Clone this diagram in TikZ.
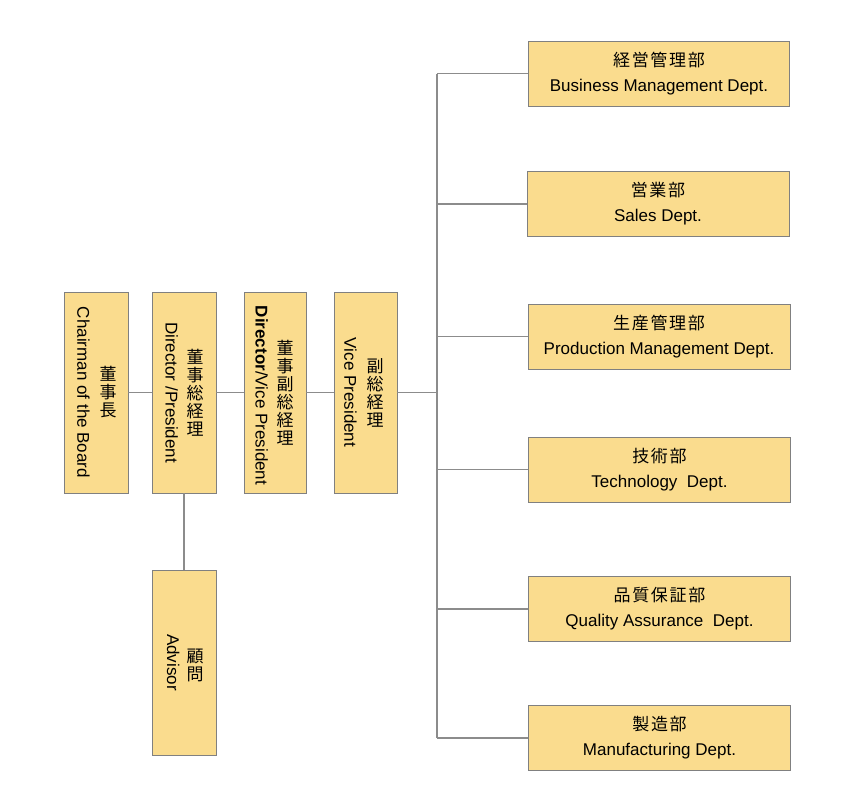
\documentclass[tikz,border=0pt]{standalone}
\usepackage{fontspec}
\setmainfont{Liberation Sans}
\newfontfamily\jp[LetterSpace=10]{Noto Sans CJK JP}
\newfontfamily\jpv{Noto Sans CJK JP}
\definecolor{boxfill}{RGB}{250,220,142}
\definecolor{boxline}{RGB}{128,128,128}
\definecolor{conn}{RGB}{140,140,140}
\tikzset{
  orgbox/.style={draw=boxline, fill=boxfill, line width=0.9pt, inner sep=0pt, align=center},
  vbox/.style={orgbox, minimum width=64pt, minimum height=201pt},
  hbox/.style={orgbox, minimum width=261pt, minimum height=65pt, font=\fontsize{17pt}{25pt}\selectfont},
  entext/.style={rotate=-90, inner sep=0pt, font=\fontsize{17pt}{20pt}\selectfont},
  jptext/.style={inner sep=0pt, align=center, font=\jpv\fontsize{17pt}{18pt}\selectfont},
  link/.style={draw=conn, line width=1.2pt}
}
\newcommand{\jpl}[1]{{\jp\fontsize{17pt}{25pt}\selectfont #1}}
\begin{document}
\begin{tikzpicture}[x=1pt,y=-1pt]
\useasboundingbox (0,0) rectangle (856,796);
% vertical boxes
\node[vbox] (c) at (96,392.5) {};
\node[vbox] (dp) at (184,392.5) {};
\node[vbox, minimum width=62pt] (dvp) at (275,392.5) {};
\node[vbox, minimum width=63pt] (vp) at (365.5,392.5) {};
\node[vbox, minimum height=185pt] (adv) at (184,662.5) {};
% labels in vertical boxes
\node[entext] (ce) at ([xshift=-12.5pt]c.center) {Chairman of the Board};
\node[jptext] (cj) at ([xshift=12pt]c.center) {董\\事\\長};
\node[entext] (dpe) at ([xshift=-12.3pt]dp.center) {Director /President};
\node[jptext] (dpj) at ([xshift=11pt]dp.center) {董\\事\\総\\経\\理};
\node[entext] (dvpe) at ([xshift=-13.3pt,yshift=-3pt]dvp.center) {\textbf{Director}/Vice President};
\node[jptext] (dvpj) at ([xshift=10pt]dvp.center) {董\\事\\副\\総\\経\\理};
\node[entext] (vpe) at ([xshift=-15pt]vp.center) {Vice President};
\node[jptext] (vpj) at ([xshift=9.5pt]vp.center) {副\\総\\経\\理};
\node[entext] (adve) at ([xshift=-10.7pt]adv.center) {Advisor};
\node[jptext] (advj) at ([xshift=11pt,yshift=-3pt]adv.center) {顧\\問};
% department boxes
\node[hbox] (b1) at (659,73.5) {\jpl{経営管理部}\\Business Management Dept.};
\node[hbox, minimum width=262pt] (b2) at (658,204) {\jpl{営業部}\\Sales Dept.};
\node[hbox, minimum width=262pt] (b3) at (659,336.5) {\jpl{生産管理部}\\Production Management Dept.};
\node[hbox, minimum width=262pt] (b4) at (659.5,469.5) {\jpl{技術部}\\Technology\ \ Dept.};
\node[hbox, minimum width=262pt] (b5) at (659.5,609) {\jpl{品質保証部}\\Quality Assurance\ \ Dept.};
\node[hbox, minimum width=262pt] (b6) at (659.5,738) {\jpl{製造部}\\Manufacturing Dept.};
% connectors
\coordinate (ttop) at (437,73.5);
\coordinate (tbot) at (437,738);
\draw[link] (c.east) -- (dp.west);
\draw[link] (dp.east) -- (dvp.west);
\draw[link] (dvp.east) -- (vp.west);
\draw[link] (dp.south) -- (adv.north);
\draw[link] (vp.east) -- (vp.east -| ttop);
\draw[link] (ttop) -- (tbot);
\foreach \b in {b1,b2,b3,b4,b5,b6}{
  \draw[link] (\b.west -| ttop) -- (\b.west);
}
\end{tikzpicture}
\end{document}
